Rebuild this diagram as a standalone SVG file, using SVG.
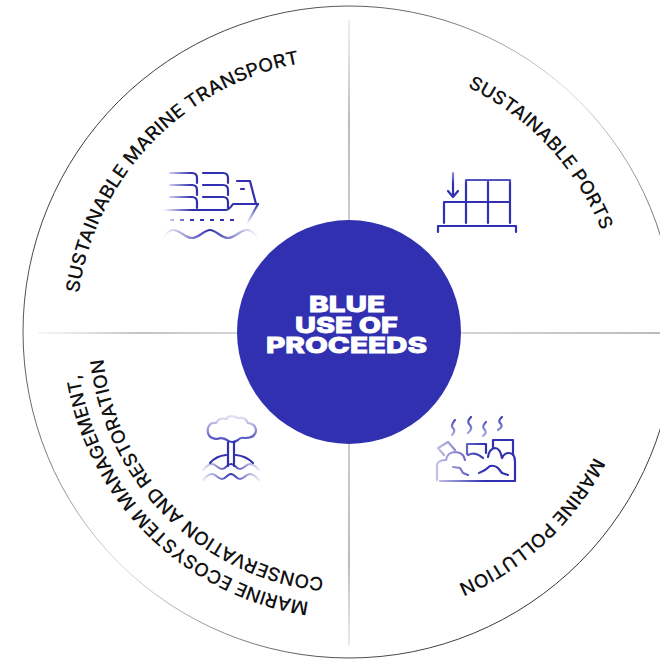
<svg xmlns="http://www.w3.org/2000/svg" width="660" height="659" viewBox="0 0 660 659">
<style>
.lb{font-family:"Inter","Liberation Sans",Arial,sans-serif;font-size:18.5px;font-weight:500;fill:#111}
.ct{font-family:"Inter","Liberation Sans",Arial,sans-serif;font-size:22px;font-weight:800;fill:#fff;stroke:#fff;stroke-width:.8;text-anchor:middle}
.ic{fill:none;stroke-width:2.2;stroke-linecap:round;stroke-linejoin:round}
.dv{stroke-width:1;fill:none}
</style>
<defs>
<linearGradient id="gh1" gradientUnits="userSpaceOnUse" x1="38" y1="0" x2="237" y2="0"><stop offset="0" stop-color="#aaa" stop-opacity=".2"/><stop offset=".5" stop-color="#888"/><stop offset="1" stop-color="#aaa"/></linearGradient>
<linearGradient id="gh2" gradientUnits="userSpaceOnUse" x1="461" y1="0" x2="660" y2="0"><stop offset="0" stop-color="#aaa"/><stop offset="1" stop-color="#777"/></linearGradient>
<linearGradient id="gv1" gradientUnits="userSpaceOnUse" x1="0" y1="20" x2="0" y2="220"><stop offset="0" stop-color="#aaa" stop-opacity=".4"/><stop offset=".5" stop-color="#777"/><stop offset="1" stop-color="#999"/></linearGradient>
<linearGradient id="gv2" gradientUnits="userSpaceOnUse" x1="0" y1="444" x2="0" y2="645"><stop offset="0" stop-color="#999"/><stop offset=".6" stop-color="#777"/><stop offset="1" stop-color="#aaa" stop-opacity=".5"/></linearGradient>
<linearGradient id="gout" gradientUnits="userSpaceOnUse" x1="60" y1="130" x2="560" y2="600"><stop offset="0" stop-color="#333"/><stop offset=".3" stop-color="#777"/><stop offset=".5" stop-color="#ddd"/><stop offset=".8" stop-color="#555"/><stop offset="1" stop-color="#333"/></linearGradient>
<linearGradient id="gship" gradientUnits="userSpaceOnUse" x1="163" y1="0" x2="258" y2="0"><stop offset="0" stop-color="#3030b0" stop-opacity="0"/><stop offset=".3" stop-color="#3030b0"/><stop offset="1" stop-color="#3030b0"/></linearGradient>
<linearGradient id="gbow" gradientUnits="userSpaceOnUse" x1="0" y1="204" x2="0" y2="224"><stop offset="0" stop-color="#3030b0"/><stop offset="1" stop-color="#3030b0" stop-opacity="0"/></linearGradient>
<linearGradient id="gwave" gradientUnits="userSpaceOnUse" x1="163" y1="0" x2="258" y2="0"><stop offset="0" stop-color="#3030b0" stop-opacity="0"/><stop offset=".5" stop-color="#3030b0"/><stop offset="1" stop-color="#3030b0" stop-opacity="0"/></linearGradient>
<linearGradient id="gport" gradientUnits="userSpaceOnUse" x1="0" y1="172" x2="0" y2="232"><stop offset="0" stop-color="#3030b0" stop-opacity=".5"/><stop offset=".2" stop-color="#3030b0"/><stop offset="1" stop-color="#3030b0"/></linearGradient>
<linearGradient id="gpol" gradientUnits="userSpaceOnUse" x1="437" y1="0" x2="516" y2="0"><stop offset="0" stop-color="#3030b0" stop-opacity=".3"/><stop offset=".6" stop-color="#3030b0"/><stop offset="1" stop-color="#3030b0"/></linearGradient>
<linearGradient id="gsm" gradientUnits="userSpaceOnUse" x1="0" y1="415" x2="0" y2="437"><stop offset="0" stop-color="#3030b0"/><stop offset="1" stop-color="#3030b0" stop-opacity=".35"/></linearGradient>
<linearGradient id="gcl" gradientUnits="userSpaceOnUse" x1="0" y1="417" x2="0" y2="445"><stop offset="0" stop-color="#3030b0" stop-opacity=".15"/><stop offset="1" stop-color="#3030b0"/></linearGradient>
<linearGradient id="gcw" gradientUnits="userSpaceOnUse" x1="203" y1="0" x2="259" y2="0"><stop offset="0" stop-color="#3030b0" stop-opacity=".1"/><stop offset=".5" stop-color="#3030b0"/><stop offset="1" stop-color="#3030b0" stop-opacity=".1"/></linearGradient>
<path id="pa" d="M78.8 293.1A273 273 0 0 1 396.4 63.1"/>
<path id="pb" d="M467.400 87.100A272 272 0 0 1 621 332"/>
<path id="pc" d="M594 456.900A275 275 0 0 1 255 590.400"/>
<path id="pd" d="M309 602A273 273 0 0 1 92.500 238.600"/>
<path id="pe" d="M324 577.800A247 247 0 0 1 117 247.500"/>
</defs>
<rect width="660" height="659" fill="#fff"/>
<g id="connectors">
<circle cx="349" cy="332" r="326" class="dv" stroke="url(#gout)"/>
<path d="M38 333H237" class="dv" stroke="url(#gh1)"/>
<path d="M461 333H660" class="dv" stroke="url(#gh2)"/>
<path d="M349 20V220" class="dv" stroke="url(#gv1)"/>
<path d="M349 444V645" class="dv" stroke="url(#gv2)"/>
</g>
<g id="center"><circle cx="349" cy="332" r="112" fill="#3030b0"/>
<text class="ct" x="347" y="312" textLength="76" lengthAdjust="spacingAndGlyphs">BLUE</text>
<text class="ct" x="346.500" y="333" textLength="103" lengthAdjust="spacingAndGlyphs">USE OF</text>
<text class="ct" x="346.500" y="353" textLength="161" lengthAdjust="spacingAndGlyphs">PROCEEDS</text></g>
<g id="transport">
<text class="lb"><textPath href="#pa" textLength="340" lengthAdjust="spacingAndGlyphs">SUSTAINABLE MARINE TRANSPORT</textPath></text>
<g class="ic" stroke="url(#gship)">
<path d="M170 173H192Q197 173 197 178V183M170 185H192Q197 185 197 190V195M170 197H192Q197 197 197 202V208"/>
<path d="M203 173H223Q228 173 228 178V183M203 185H223Q228 185 228 190V195M203 197H223Q228 197 228 202V208"/>
<path d="M163 210H226Q229 210 233 204H258"/>
<path d="M170 220H237" stroke-dasharray="4 6" stroke-linecap="butt"/>
<path d="M163 238Q168 230 173 230C180 230 185 238 192 238C199 238 204 230 210 230C216 230 221 238 228 238C235 238 240 230 247 230Q252 230 258 238" stroke="url(#gwave)"/>
</g>
<path d="M237 181H250L256 204M241 189H244" class="ic" stroke="#3030b0"/>
<path d="M258 204L247 224" class="ic" stroke="url(#gbow)"/>
</g>
<g id="ports">
<text class="lb"><textPath href="#pb" textLength="201" lengthAdjust="spacingAndGlyphs">SUSTAINABLE PORTS</textPath></text>
<path d="M453 173V197M448 191L453 197L458 191M466 201V180H510V201M488 180V201M444 223V202H510V223M466 202V223M488 202V223M438 232V226H516V232" class="ic" stroke="url(#gport)"/>
</g>
<g id="pollution">
<text class="lb"><textPath href="#pc" textLength="190" lengthAdjust="spacingAndGlyphs">MARINE POLLUTION</textPath></text>
<path d="M455 420Q450 426 453 428Q456 431 452 435M471 417Q466 422 470 425Q473 429 468 433M486 422Q481 427 485 430Q487 433 483 436M502 417Q497 421 501 424Q503 427 498 430" class="ic" stroke="url(#gsm)"/>
<g class="ic" stroke="url(#gpol)">
<path d="M444 455L438 448L448 442L455 450M467 454V444H486V453M493 448V440H513V455"/>
<path d="M440 481H515V462Q515 453 509 453Q504 453 502 458Q500 448 495 448Q489 449 488 457M437 480V465Q438 460 446 460Q447 452 456 452Q464 453 465 460M468 455Q475 451 483 458M453 467L460 468L463 473L468 475M479 473Q485 471 490 466Q495 465 498 468L502 473L508 475"/>
</g>
</g>
<g id="ecosystem">
<text class="lb"><textPath href="#pd" textLength="346" lengthAdjust="spacingAndGlyphs">MARINE ECOSYSTEM MANAGEMENT,</textPath></text>
<text class="lb"><textPath href="#pe" textLength="336" lengthAdjust="spacingAndGlyphs">CONSERVATION AND RESTORATION</textPath></text>
<g class="ic" stroke="url(#gcl)">
<path d="M217 439Q206 438 208 428Q210 422 216 423Q219 417 226 419Q230 414 238 418Q245 416 248 423Q256 424 256 431Q255 438 245 438Q240 437 238 440Q232 444 227 440Q222 437 217 439Z"/>
</g>
<path d="M228 442V466M234 442V466M210 463Q216 456 226 455M236 455Q246 456 253 463" class="ic" stroke="#3030b0"/>
<path d="M203 470Q208 464 212 464C216 464 218 469 222 469S227 464 231 464S236 469 240 469S246 464 250 464Q254 464 259 470M203 480Q208 474 212 474C216 474 218 479 222 479S227 474 231 474S236 479 240 479S246 474 250 474Q254 474 259 480" class="ic" stroke="url(#gcw)"/>
</g>
</svg>
